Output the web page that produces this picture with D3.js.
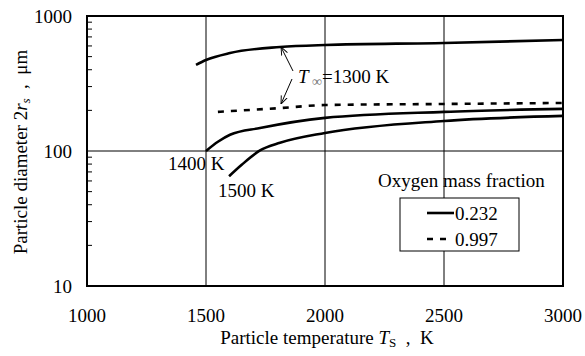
<!DOCTYPE html>
<html>
<head>
<meta charset="utf-8">
<script src="https://cdn.jsdelivr.net/npm/d3@7"></script>
<style>
  body { margin: 0; background: #fff; }
  text { font-family: "Liberation Serif", "Times New Roman", Times, "DejaVu Serif", serif; }
</style>
</head>
<body>
<svg id="chart"></svg>
<script>
// particle temperature (K) vs particle diameter (um)
const ts1300 = [1458, 1500, 1601, 1811, 2000, 2500, 3000]
const d1300 = [434, 472, 532, 589, 610, 631, 664]

const ts1300ox = [1550, 1811, 2000, 2500, 3000]
const d1300ox = [195, 208, 219, 223, 227]

const ts1400 = [1500, 1550, 1601, 1727, 2000, 2500, 3000]
const d1400 = [100, 117, 132, 148, 176, 195, 205]

const ts1500 = [1597, 1650, 1727, 1811, 2000, 2500, 3000]
const d1500 = [65, 79, 101, 115, 136, 167, 182]

const xTicks = [1000, 1500, 2000, 2500, 3000]
const yTicks = [10, 100, 1000]
const legendLabels = ['0.232', '0.997']

const width = 585
const height = 356
const margin = { top: 16, right: 22, bottom: 70, left: 87 }
const w = width - margin.left - margin.right
const h = height - margin.top - margin.bottom
const fs = 19

const svg = d3.select('#chart')
  .attr('width', width)
  .attr('height', height)
  .attr('font-family', '"Liberation Serif", "Times New Roman", serif')

const g = svg.append('g')
  .attr('transform', `translate(${margin.left},${margin.top})`)

const x = d3.scaleLinear().domain([1000, 3000]).range([0, w])
const y = d3.scaleLog().domain([10, 1000]).range([h, 0])

// grid
g.selectAll('.vgrid')
  .data(xTicks.slice(1, -1))
  .enter().append('line')
  .attr('x1', d => x(d)).attr('x2', d => x(d))
  .attr('y1', 0).attr('y2', h)
  .attr('stroke', '#000').attr('stroke-width', 1)

g.append('line')
  .attr('x1', 0).attr('x2', w)
  .attr('y1', y(100)).attr('y2', y(100))
  .attr('stroke', '#000').attr('stroke-width', 1)

// minor ticks on left axis
const minor = []
for (const dec of [10, 100]) {
  for (let k = 2; k <= 9; k++) minor.push(dec * k)
}
g.selectAll('.minor')
  .data(minor)
  .enter().append('line')
  .attr('x1', 0).attr('x2', 5)
  .attr('y1', d => y(d)).attr('y2', d => y(d))
  .attr('stroke', '#000').attr('stroke-width', 1)

// frame
g.append('rect')
  .attr('width', w).attr('height', h)
  .attr('fill', 'none')
  .attr('stroke', '#000').attr('stroke-width', 2)

// tick labels
g.selectAll('.xlab')
  .data(xTicks)
  .enter().append('text')
  .attr('x', d => x(d))
  .attr('y', h + 36)
  .attr('text-anchor', 'middle')
  .attr('font-size', fs)
  .text(d => d)

g.selectAll('.ylab')
  .data(yTicks)
  .enter().append('text')
  .attr('x', -15)
  .attr('y', d => y(d) + 7)
  .attr('text-anchor', 'end')
  .attr('font-size', fs)
  .text(d => d)

// axis titles
const xt = svg.append('text')
  .attr('x', 327)
  .attr('y', 344)
  .attr('text-anchor', 'middle')
  .attr('font-size', fs)
xt.append('tspan').text('Particle temperature\u00a0')
xt.append('tspan').attr('font-style', 'italic').text('T')
xt.append('tspan').attr('font-size', 13).attr('dy', 3).text('S')
xt.append('tspan').attr('dy', -3).text('\u00a0\u00a0,\u00a0\u00a0K')

const yt = svg.append('text')
  .attr('transform', 'translate(27,152) rotate(-90)')
  .attr('text-anchor', 'middle')
  .attr('font-size', fs)
yt.append('tspan').text('Particle diameter 2')
yt.append('tspan').attr('font-style', 'italic').text('r')
yt.append('tspan').attr('font-style', 'italic').attr('font-size', 13).attr('dy', 3).text('s')
yt.append('tspan').attr('dy', -3).text('\u00a0\u00a0,\u00a0\u00a0\u03bcm')

// curves
const line = d3.line()
  .x(d => x(d[0]))
  .y(d => y(d[1]))
  .curve(d3.curveMonotoneX)

const series = [
  { t: ts1300, d: d1300, dash: null },
  { t: ts1400, d: d1400, dash: null },
  { t: ts1500, d: d1500, dash: null },
  { t: ts1300ox, d: d1300ox, dash: '6,7' }
]

series.forEach(s => {
  g.append('path')
    .datum(d3.zip(s.t, s.d))
    .attr('d', line)
    .attr('fill', 'none')
    .attr('stroke', '#000')
    .attr('stroke-width', 2.6)
    .attr('stroke-dasharray', s.dash)
})

// annotations
svg.append('defs').append('marker')
  .attr('id', 'arr')
  .attr('viewBox', '0 0 10 10')
  .attr('refX', 10).attr('refY', 5)
  .attr('markerWidth', 8).attr('markerHeight', 8)
  .attr('orient', 'auto')
  .append('path')
  .attr('d', 'M0,1 L10,5 L0,9')
  .attr('fill', 'none')
  .attr('stroke', '#000')
  .attr('stroke-width', 1.2)

svg.append('line')
  .attr('x1', 293).attr('y1', 71).attr('x2', 281).attr('y2', 47)
  .attr('stroke', '#000').attr('stroke-width', 1)
  .attr('marker-end', 'url(#arr)')
svg.append('line')
  .attr('x1', 292).attr('y1', 79).attr('x2', 281).attr('y2', 104)
  .attr('stroke', '#000').attr('stroke-width', 1)
  .attr('marker-end', 'url(#arr)')

const tl = svg.append('text')
  .attr('x', 298).attr('y', 83)
  .attr('font-size', fs)
tl.append('tspan').attr('font-style', 'italic').text('T')
tl.append('tspan').attr('font-size', 14).attr('fill', '#777').attr('dy', 3).text('\u00a0\u221e')
tl.append('tspan').attr('dy', -3).text('=1300 K')

svg.append('text')
  .attr('x', 168).attr('y', 170)
  .attr('font-size', fs)
  .text('1400 K')

svg.append('text')
  .attr('x', 218).attr('y', 197)
  .attr('font-size', fs)
  .text('1500 K')

// legend
svg.append('text')
  .attr('x', 378).attr('y', 187)
  .attr('font-size', fs)
  .text('Oxygen mass fraction')

svg.append('rect')
  .attr('x', 400).attr('y', 198)
  .attr('width', 119).attr('height', 53)
  .attr('fill', '#fff')
  .attr('stroke', '#000').attr('stroke-width', 1)

legendLabels.forEach((lab, i) => {
  const ly = 213 + i * 26
  svg.append('line')
    .attr('x1', 427).attr('x2', i === 1 ? 447 : 454)
    .attr('y1', ly).attr('y2', ly)
    .attr('stroke', '#000').attr('stroke-width', 2.6)
    .attr('stroke-dasharray', i === 1 ? '6,7' : null)
  svg.append('text')
    .attr('x', 455).attr('y', ly + 7)
    .attr('font-size', fs)
    .text(lab)
})
</script>
</body>
</html>
